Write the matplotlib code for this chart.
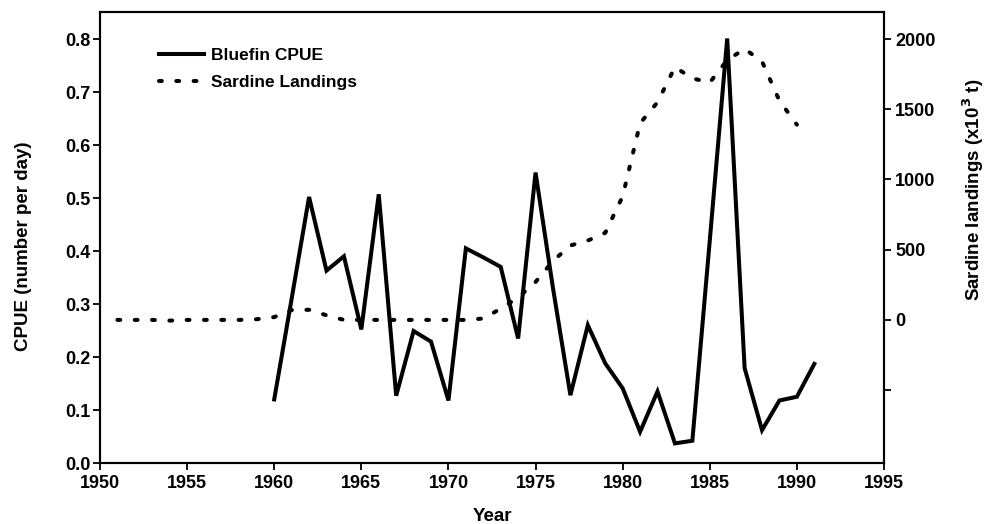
import matplotlib
matplotlib.use("Agg")
import matplotlib.pyplot as plt

plt.rcParams['font.family'] = ['Liberation Sans', 'DejaVu Sans']
plt.rcParams['font.weight'] = 'bold'

cpue_years = list(range(1960, 1992))
cpue_values = [0.120, 0.31, 0.502, 0.363, 0.390, 0.252, 0.507, 0.127, 0.249, 0.229,
               0.118, 0.405, 0.388, 0.370, 0.235, 0.548, 0.33, 0.128, 0.260, 0.188,
               0.141, 0.059, 0.135, 0.037, 0.042, 0.42, 0.801, 0.179, 0.062, 0.118,
               0.125, 0.187]

sardine_years = list(range(1951, 1991))
sardine_values = [0, 0, 0, -5, 0, 0, 0, 0, 5, 20,
                  70, 72, 33, 0, 0, 0, 0, 0, 0, 0,
                  0, 10, 80, 160, 270, 420, 530, 565, 620, 880,
                  1400, 1550, 1800, 1720, 1690, 1850, 1930, 1840, 1560, 1390]

x_ticks = [1950, 1955, 1960, 1965, 1970, 1975, 1980, 1985, 1990, 1995]
left_ticks = [0.0, 0.1, 0.2, 0.3, 0.4, 0.5, 0.6, 0.7, 0.8]
right_ticks = [-500, 0, 500, 1000, 1500, 2000]
right_labels = ['', '0', '500', '1000', '1500', '2000']

fig = plt.figure(figsize=(9.85, 5.24), dpi=100)
ax = fig.add_axes([100/985, 1 - 463/524, 784/985, 451/524])
ax2 = ax.twinx()

l1, = ax.plot(cpue_years, cpue_values, color='black', lw=2.9,
              solid_joinstyle='miter', label='Bluefin CPUE')
l2, = ax2.plot(sardine_years, sardine_values, color='black', lw=2.9,
               linestyle=(0, (0.7, 3.6)), dash_capstyle='round', label='Sardine Landings')

ax.set_xlim(1950, 1995)
ylo, yhi = 0.0, 0.851
ax.set_ylim(ylo, yhi)
# right axis: 0 <-> 0.27 CPUE, 2000 <-> 0.80 CPUE
def to_s(c):
    return (c - 0.27) / 0.53 * 2000
ax2.set_ylim(to_s(ylo), to_s(yhi))

ax.set_xticks(x_ticks)
ax.set_xticklabels([str(t) for t in x_ticks])
ax.set_yticks(left_ticks)
ax.set_yticklabels([f'{t:.1f}' for t in left_ticks])
ax2.set_yticks(right_ticks)
ax2.set_yticklabels(right_labels)

for a in (ax, ax2):
    for s in a.spines.values():
        s.set_linewidth(1.5)
    a.tick_params(direction='out', length=5, width=1.3, labelsize=13)
ax.tick_params(axis='x', pad=4)
ax.tick_params(axis='y', pad=2)
ax2.tick_params(axis='y', pad=3)

ax.set_xlabel('Year', fontsize=13.5, fontweight='bold')
ax.xaxis.set_label_coords(0.5, -0.10)
ax.set_ylabel('CPUE (number per day)', fontsize=13.5, fontweight='bold')
ax.yaxis.set_label_coords(-0.0867, 0.481)
ax2.set_ylabel('Sardine landings (x10$^3$ t)', fontsize=13.5, fontweight='bold')
ax2.yaxis.set_label_coords(1.097, 0.605)

leg = ax.legend([l1, l2], ['Bluefin CPUE', 'Sardine Landings'], loc='upper left',
                bbox_to_anchor=(0.055, 0.955), frameon=False, fontsize=12.5,
                handlelength=2.6, handletextpad=0.4, labelspacing=0.7)

fig.savefig('out.png', dpi=100)
